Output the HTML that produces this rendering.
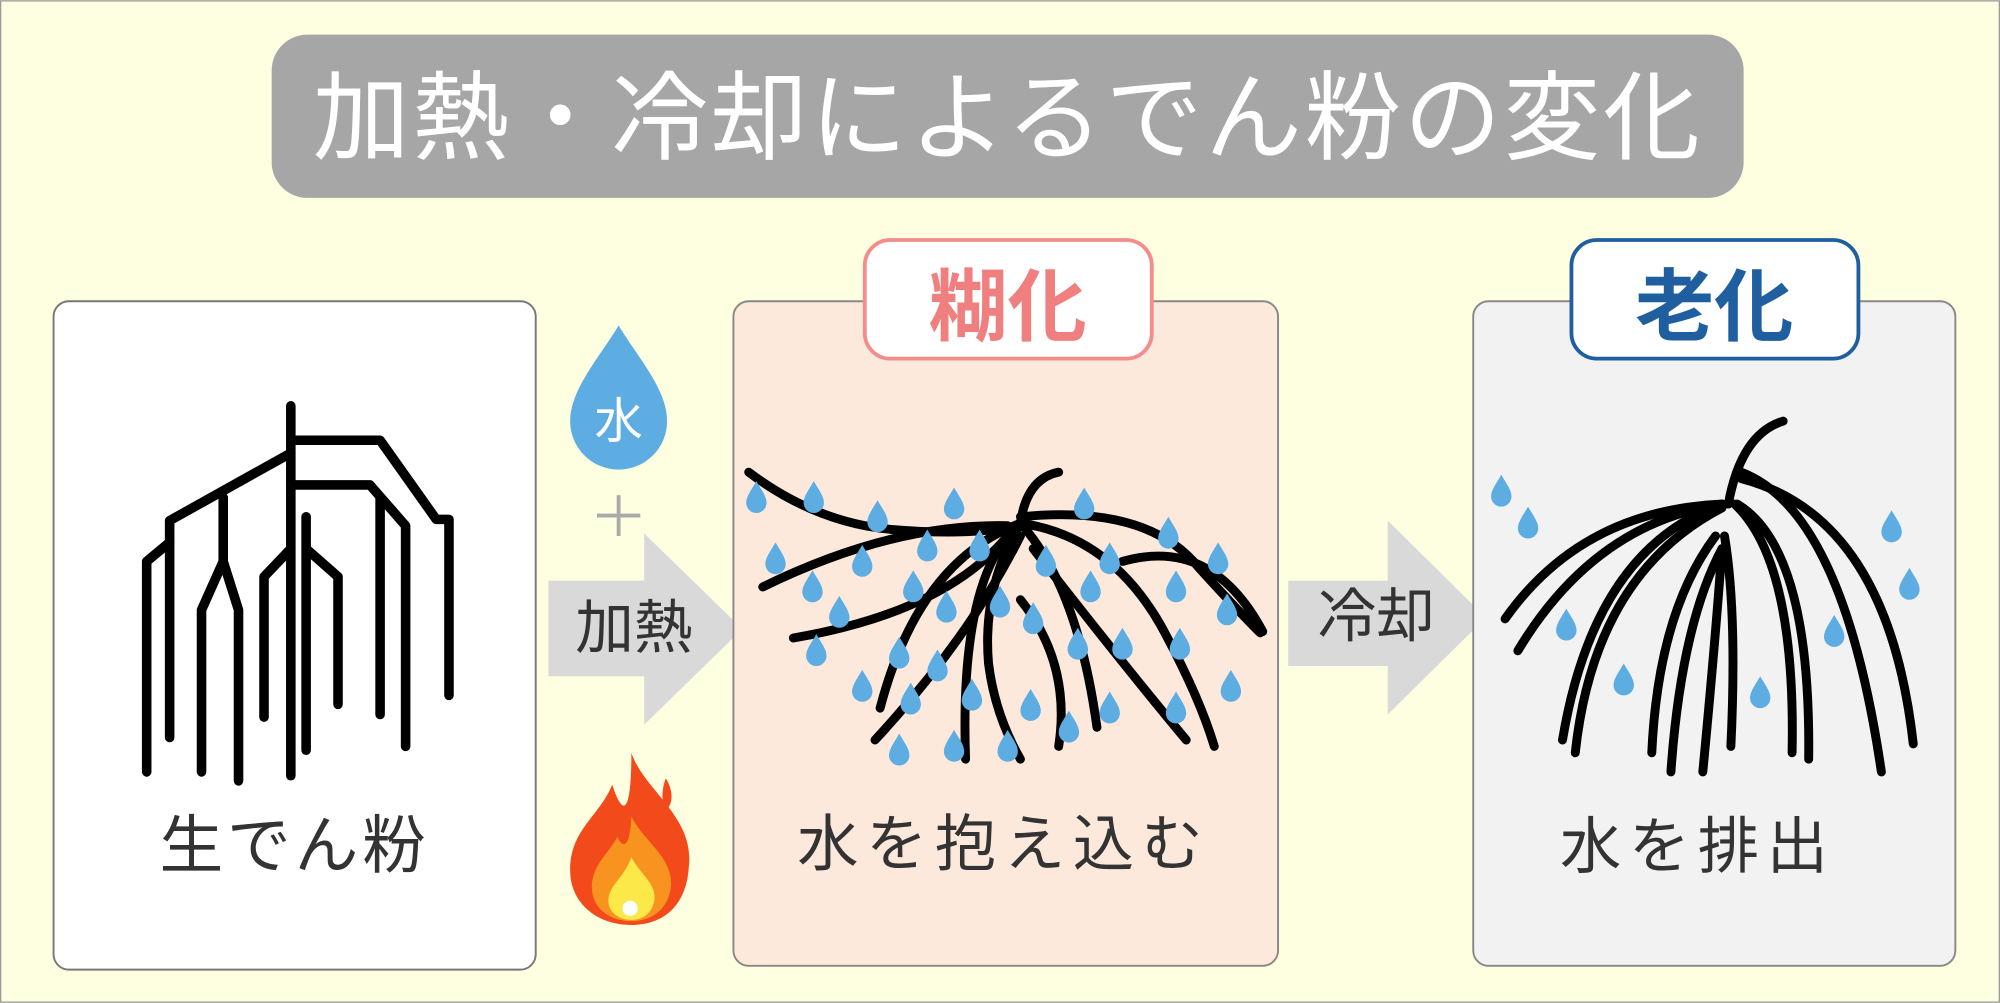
<!DOCTYPE html>
<html><head><meta charset="utf-8"><style>html,body{margin:0;padding:0;background:#fefee0}svg{display:block}text{font-family:"Liberation Sans","Noto Sans CJK JP",sans-serif}</style></head><body>
<svg width="2000" height="1003" viewBox="0 0 1568 786" xmlns="http://www.w3.org/2000/svg">
<defs>
<path id="d" d="M0,-13 C4,-6 8,-1 8,4 A8,8 0 0 1 -8,4 C-8,-1 -4,-6 0,-13Z" fill="#5dade2"/>
</defs>
<rect x="0.5" y="0.5" width="1567" height="785" fill="#fefee0" stroke="#999"/>
<rect x="213" y="27" width="1154" height="128" rx="28" fill="#a6a6a6"/>
<text x="790" y="119" font-size="76" fill="#fff" text-anchor="middle" letter-spacing="2">加熱・冷却によるでん粉の変化</text>

<rect x="42" y="236" width="378" height="524" rx="12" fill="#fff" stroke="#777" stroke-width="1.5"/>
<g fill="none" stroke="#000" stroke-width="7.5" stroke-linecap="round" stroke-linejoin="round">
<path d="M228,318V608"/>
<path d="M228,345H298L342,407H352V545"/>
<path d="M228,380H290L318,412V585"/>
<path d="M298,390V560"/>
<path d="M228,355L133,408V578"/>
<path d="M133,425L115,440V605"/>
<path d="M175,390V440L158,478V605M175,440L187,478V612"/>
<path d="M240,405V588M240,430L265,452V552M228,430L207,452V562"/>
</g>
<text x="231" y="680" font-size="50" fill="#333" text-anchor="middle" letter-spacing="3">生でん粉</text>

<path d="M485,255 C500,280 523,305 523,330 A38,38 0 0 1 447,330 C447,305 470,280 485,255Z" fill="#5dade2"/>
<text x="485" y="343" font-size="38" fill="#fff" text-anchor="middle">水</text>
<path d="M485,388V420M468,404H502" stroke="#aaa" stroke-width="3"/>
<path d="M430,455H505V418L582,493L505,568V530H430Z" fill="#d9d9d9"/>
<text x="497" y="508" font-size="46" fill="#333" text-anchor="middle">加熱</text>

<path d="M495,590 C505,620 545,640 540,680 C538,710 520,725 495,725 C468,725 447,708 447,682 C447,650 470,640 480,615 C488,640 495,640 495,590Z" fill="#f24a1a"/>
<path d="M522,610 C528,620 528,630 522,635 C518,628 519,618 522,610Z" fill="#f24a1a"/>
<path d="M495,640 C505,660 528,672 526,695 C524,712 512,722 495,722 C478,722 464,712 464,695 C464,678 478,668 484,656 C490,668 494,660 495,640Z" fill="#f8931f"/>
<path d="M495,672 C502,685 515,693 513,706 C511,716 504,721 495,721 C485,721 477,715 477,706 C477,694 488,690 495,672Z" fill="#fde84a"/>
<circle cx="494" cy="712" r="6" fill="#fff"/>

<rect x="575" y="236" width="427" height="521" rx="12" fill="#fde9dc" stroke="#888" stroke-width="1.5"/>
<rect x="678" y="188" width="225" height="93" rx="20" fill="#fff" stroke="#f48c8c" stroke-width="3"/>
<text x="790" y="262" font-size="62" font-weight="bold" fill="#f08080" text-anchor="middle">糊化</text>
<g fill="none" stroke="#000" stroke-width="7" stroke-linecap="round">
<path d="M587,370 Q640,410 700,415 Q760,420 800,412"/>
<path d="M598,460 Q700,410 790,412"/>
<path d="M830,370 Q805,375 800,410"/>
<path d="M800,405 Q900,395 940,445 Q970,478 988,496"/>
<path d="M800,410 Q870,420 910,490 Q940,545 952,585"/>
<path d="M800,410 Q845,460 860,570"/>
<path d="M800,410 Q770,460 775,520 Q780,560 800,595"/>
<path d="M800,410 Q752,450 757,595"/>
<path d="M800,410 Q720,440 690,555"/>
<path d="M800,420 Q760,500 686,580"/>
<path d="M622,500 Q740,480 790,420"/>
<path d="M880,440 Q950,420 990,495"/>
<path d="M800,470 Q840,520 830,585"/>
<path d="M810,430 Q880,520 930,580"/>
</g>
<g>
<use href="#d" x="593" y="390"/><use href="#d" x="638" y="390"/><use href="#d" x="688" y="405"/><use href="#d" x="748" y="395"/><use href="#d" x="850" y="395"/><use href="#d" x="608" y="438"/><use href="#d" x="676" y="440"/><use href="#d" x="727" y="428"/><use href="#d" x="768" y="428"/><use href="#d" x="820" y="440"/><use href="#d" x="870" y="438"/><use href="#d" x="916" y="418"/><use href="#d" x="955" y="438"/><use href="#d" x="637" y="460"/><use href="#d" x="716" y="460"/><use href="#d" x="784" y="472"/><use href="#d" x="855" y="460"/><use href="#d" x="922" y="460"/><use href="#d" x="962" y="478"/><use href="#d" x="658" y="480"/><use href="#d" x="742" y="476"/><use href="#d" x="810" y="485"/><use href="#d" x="880" y="505"/><use href="#d" x="640" y="510"/><use href="#d" x="705" y="512"/><use href="#d" x="735" y="522"/><use href="#d" x="845" y="505"/><use href="#d" x="925" y="505"/><use href="#d" x="676" y="538"/><use href="#d" x="714" y="548"/><use href="#d" x="762" y="545"/><use href="#d" x="808" y="553"/><use href="#d" x="870" y="555"/><use href="#d" x="922" y="555"/><use href="#d" x="965" y="538"/><use href="#d" x="838" y="570"/><use href="#d" x="705" y="588"/><use href="#d" x="748" y="585"/><use href="#d" x="790" y="585"/>
</g>
<text x="787" y="678" font-size="48" fill="#333" text-anchor="middle" letter-spacing="6">水を抱え込む</text>

<path d="M1010,455H1088V408L1165,484L1088,560V522H1010Z" fill="#d9d9d9"/>
<text x="1079" y="499" font-size="46" fill="#333" text-anchor="middle">冷却</text>

<rect x="1155" y="236" width="378" height="521" rx="12" fill="#f2f2f2" stroke="#888" stroke-width="1.5"/>
<rect x="1232" y="188" width="225" height="93" rx="20" fill="#fff" stroke="#1f5fa0" stroke-width="3"/>
<text x="1344" y="262" font-size="62" font-weight="bold" fill="#1f5fa0" text-anchor="middle">老化</text>
<g fill="none" stroke="#000" stroke-width="7" stroke-linecap="round">
<path d="M1398,330 Q1365,340 1355,395"/>
<path d="M1350,395 Q1240,400 1180,485"/>
<path d="M1350,395 Q1250,410 1190,510"/>
<path d="M1350,395 Q1250,430 1225,580"/>
<path d="M1350,398 Q1250,450 1235,590"/>
<path d="M1345,420 Q1300,480 1295,590"/>
<path d="M1350,430 Q1318,490 1310,605"/>
<path d="M1350,430 Q1345,500 1335,605"/>
<path d="M1352,420 Q1362,480 1357,585"/>
<path d="M1360,395 Q1408,440 1405,590"/>
<path d="M1362,395 Q1420,430 1418,595"/>
<path d="M1365,370 Q1445,400 1475,605"/>
<path d="M1365,375 Q1480,405 1500,583"/>
</g>
<use href="#d" x="1177" y="385"/><use href="#d" x="1198" y="410"/><use href="#d" x="1228" y="490"/><use href="#d" x="1273" y="533"/><use href="#d" x="1380" y="543"/><use href="#d" x="1438" y="495"/><use href="#d" x="1483" y="413"/><use href="#d" x="1497" y="458"/>
<text x="1331" y="680" font-size="48" fill="#333" text-anchor="middle" letter-spacing="6">水を排出</text>
</svg>
</body></html>
